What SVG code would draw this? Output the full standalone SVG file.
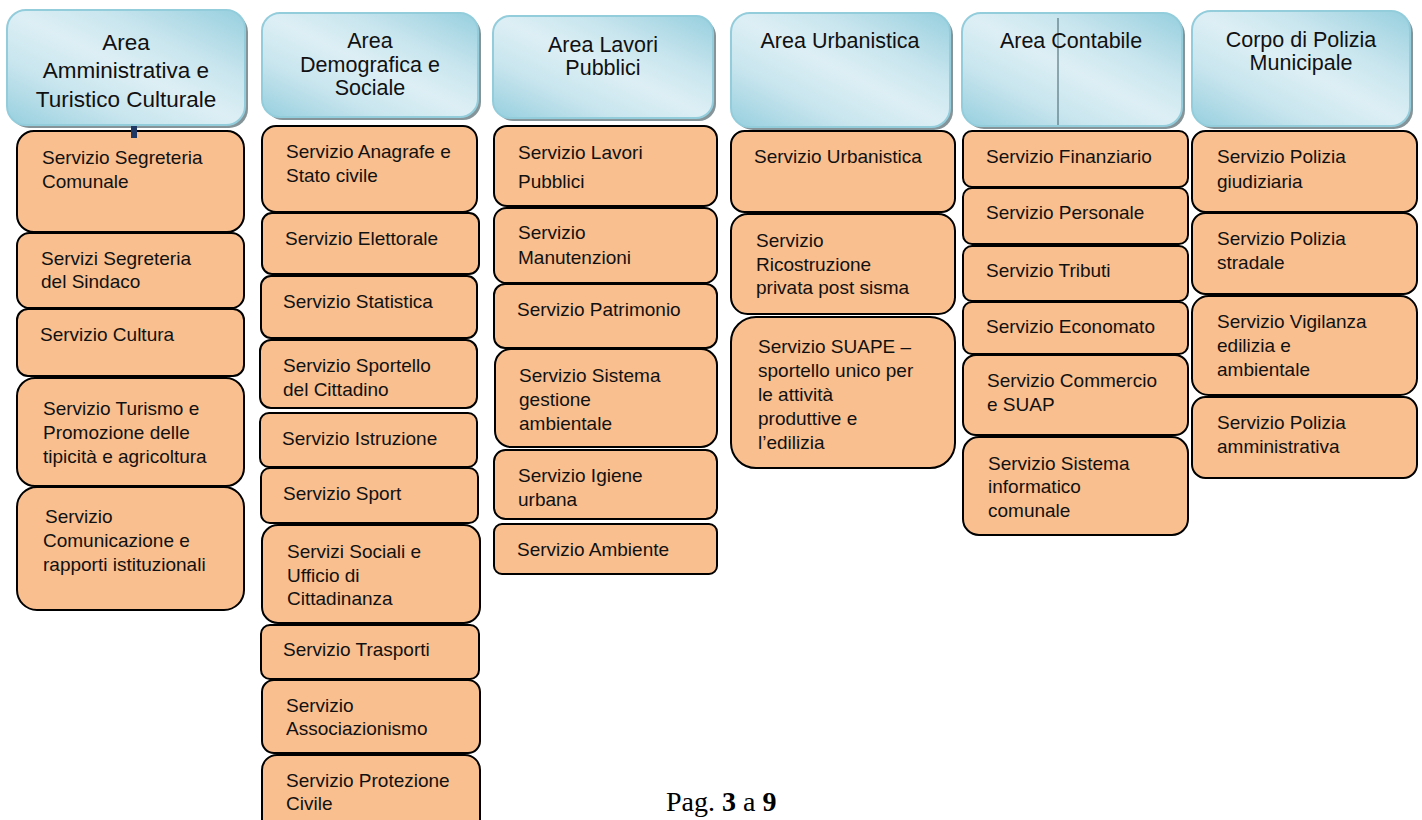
<svg xmlns="http://www.w3.org/2000/svg" width="1422" height="820" viewBox="0 0 1422 820">
<defs>
<linearGradient id="hg" x1="1" y1="0" x2="0" y2="1">
<stop offset="0" stop-color="#96cfde"/>
<stop offset="0.3" stop-color="#c8e5ee"/>
<stop offset="0.5" stop-color="#ddeff5"/>
<stop offset="0.72" stop-color="#c8e5ee"/>
<stop offset="1" stop-color="#96cfde"/>
</linearGradient>
<style>
.hs{fill:#849499;}
.hb{fill:url(#hg);stroke:#93cddc;stroke-width:2;}
.ht{font-family:"Liberation Sans",Arial,sans-serif;font-size:21.5px;fill:#111;text-anchor:middle;}
.bx{fill:#f9bf8f;stroke:#000;stroke-width:2;}
.t{font-family:"Liberation Sans",Arial,sans-serif;font-size:19px;fill:#111;}
.pg{font-family:"Liberation Serif","Times New Roman",serif;font-size:28px;fill:#000;}
</style>
</defs>
<rect width="1422" height="820" fill="#fff"/>

<g id="h1">
<rect class="hs" x="10" y="13" width="238" height="115" rx="19"/>
<rect class="hb" x="7" y="10" width="238" height="115" rx="19"/>
<text class="ht" style="font-size:22.5px" x="126" y="50">Area</text>
<text class="ht" style="font-size:22.5px" x="126" y="78">Amministrativa e</text>
<text class="ht" style="font-size:22.5px" x="126" y="107">Turistico Culturale</text>
</g>
<g id="h2">
<rect class="hs" x="265" y="16" width="216" height="104" rx="18"/>
<rect class="hb" x="262" y="13" width="216" height="104" rx="18"/>
<text class="ht" x="370" y="48">Area</text>
<text class="ht" x="370" y="72">Demografica e</text>
<text class="ht" x="370" y="95">Sociale</text>
</g>
<g id="h3">
<rect class="hs" x="496" y="19" width="220" height="102" rx="17"/>
<rect class="hb" x="493" y="16" width="220" height="102" rx="17"/>
<text class="ht" x="603" y="52">Area Lavori</text>
<text class="ht" x="603" y="75">Pubblici</text>
</g>
<g id="h4">
<rect class="hs" x="734" y="16" width="219" height="114" rx="19"/>
<rect class="hb" x="731" y="13" width="219" height="114" rx="19"/>
<text class="ht" x="840" y="48">Area Urbanistica</text>
</g>
<g id="h5">
<rect class="hs" x="965" y="16" width="220" height="113" rx="19"/>
<rect class="hb" x="962" y="13" width="220" height="113" rx="19"/>
<line x1="1058" y1="18" x2="1058" y2="125" stroke="#3f5f69" stroke-width="1"/>
<text class="ht" x="1071" y="48">Area Contabile</text>
</g>
<g id="h6">
<rect class="hs" x="1195" y="14" width="218" height="115" rx="19"/>
<rect class="hb" x="1192" y="11" width="218" height="115" rx="19"/>
<text class="ht" x="1301" y="47">Corpo di Polizia</text>
<text class="ht" x="1301" y="70">Municipale</text>
</g>

<g id="c1a"><rect class="bx" x="17" y="131" width="227" height="101" rx="17"/>
<text class="t" x="42" y="164">Servizio Segreteria</text><text class="t" x="42" y="188">Comunale</text></g>
<g id="c1b"><rect class="bx" x="17" y="233" width="227" height="75" rx="12.5"/>
<text class="t" x="41" y="265">Servizi Segreteria</text><text class="t" x="41" y="288">del Sindaco</text></g>
<g id="c1c"><rect class="bx" x="17" y="309" width="227" height="67" rx="11"/>
<text class="t" x="40" y="341">Servizio Cultura</text></g>
<g id="c1d"><rect class="bx" x="17" y="378" width="227" height="108" rx="18"/>
<text class="t" x="43" y="415">Servizio Turismo e</text><text class="t" x="43" y="439">Promozione delle</text><text class="t" x="43" y="463">tipicità e agricoltura</text></g>
<g id="c1e"><rect class="bx" x="17" y="487" width="227" height="123" rx="20"/>
<text class="t" x="45" y="523">Servizio</text><text class="t" x="43" y="547">Comunicazione e</text><text class="t" x="43" y="571">rapporti istituzionali</text></g>

<g id="c2a"><rect class="bx" x="262" y="126" width="215" height="86" rx="14"/>
<text class="t" x="286" y="158">Servizio Anagrafe e</text><text class="t" x="286" y="182">Stato civile</text></g>
<g id="c2b"><rect class="bx" x="262" y="213" width="217" height="61" rx="10"/>
<text class="t" x="285" y="245">Servizio Elettorale</text></g>
<g id="c2c"><rect class="bx" x="261" y="276" width="216" height="62" rx="10"/>
<text class="t" x="283" y="308">Servizio Statistica</text></g>
<g id="c2d"><rect class="bx" x="260" y="340" width="217" height="68" rx="11"/>
<text class="t" x="283" y="372">Servizio Sportello</text><text class="t" x="283" y="396">del Cittadino</text></g>
<g id="c2e"><rect class="bx" x="260" y="413" width="217" height="54" rx="9"/>
<text class="t" x="282" y="445">Servizio Istruzione</text></g>
<g id="c2f"><rect class="bx" x="261" y="468" width="217" height="55" rx="9"/>
<text class="t" x="283" y="500">Servizio Sport</text></g>
<g id="c2g"><rect class="bx" x="262" y="525" width="218" height="98" rx="16"/>
<text class="t" x="287" y="558">Servizi Sociali e</text><text class="t" x="287" y="582">Ufficio di</text><text class="t" x="287" y="605">Cittadinanza</text></g>
<g id="c2h"><rect class="bx" x="261" y="625" width="218" height="54" rx="9"/>
<text class="t" x="283" y="656">Servizio Trasporti</text></g>
<g id="c2i"><rect class="bx" x="262" y="680" width="218" height="73" rx="12"/>
<text class="t" x="286" y="712">Servizio</text><text class="t" x="286" y="735">Associazionismo</text></g>
<g id="c2j"><rect class="bx" x="262" y="755" width="218" height="95" rx="15"/>
<text class="t" x="286" y="787">Servizio Protezione</text><text class="t" x="286" y="810">Civile</text></g>

<g id="c3a"><rect class="bx" x="494" y="126" width="223" height="80" rx="13"/>
<text class="t" x="518" y="159">Servizio Lavori</text><text class="t" x="518" y="188">Pubblici</text></g>
<g id="c3b"><rect class="bx" x="494" y="208" width="223" height="75" rx="12.5"/>
<text class="t" x="518" y="239">Servizio</text><text class="t" x="518" y="264">Manutenzioni</text></g>
<g id="c3c"><rect class="bx" x="494" y="284" width="223" height="64" rx="11"/>
<text class="t" x="517" y="316">Servizio Patrimonio</text></g>
<g id="c3d"><rect class="bx" x="495" y="349" width="222" height="98" rx="16"/>
<text class="t" x="519" y="382">Servizio Sistema</text><text class="t" x="519" y="406">gestione</text><text class="t" x="519" y="430">ambientale</text></g>
<g id="c3e"><rect class="bx" x="494" y="450" width="223" height="69" rx="11.5"/>
<text class="t" x="518" y="482">Servizio Igiene</text><text class="t" x="518" y="506">urbana</text></g>
<g id="c3f"><rect class="bx" x="494" y="524" width="223" height="50" rx="8"/>
<text class="t" x="517" y="556">Servizio Ambiente</text></g>

<g id="c4a"><rect class="bx" x="731" y="131" width="224" height="81" rx="13.5"/>
<text class="t" x="754" y="163">Servizio Urbanistica</text></g>
<g id="c4b"><rect class="bx" x="731" y="214" width="224" height="100" rx="16.7"/>
<text class="t" x="756" y="247">Servizio</text><text class="t" x="756" y="271">Ricostruzione</text><text class="t" x="756" y="294">privata post sisma</text></g>
<g id="c4c"><rect class="bx" x="731" y="317" width="224" height="151" rx="25"/>
<text class="t" x="758" y="353">Servizio SUAPE –</text><text class="t" x="758" y="377">sportello unico per</text><text class="t" x="758" y="401">le attività</text><text class="t" x="758" y="425">produttive e</text><text class="t" x="758" y="449">l’edilizia</text></g>

<g id="c5a"><rect class="bx" x="963" y="131" width="225" height="56" rx="9"/>
<text class="t" x="986" y="163">Servizio Finanziario</text></g>
<g id="c5b"><rect class="bx" x="963" y="188" width="225" height="56" rx="9"/>
<text class="t" x="986" y="219">Servizio Personale</text></g>
<g id="c5c"><rect class="bx" x="963" y="246" width="225" height="55" rx="9"/>
<text class="t" x="986" y="277">Servizio Tributi</text></g>
<g id="c5d"><rect class="bx" x="963" y="302" width="225" height="52" rx="9"/>
<text class="t" x="986" y="333">Servizio Economato</text></g>
<g id="c5e"><rect class="bx" x="963" y="355" width="225" height="80" rx="13"/>
<text class="t" x="987" y="387">Servizio Commercio</text><text class="t" x="987" y="411">e SUAP</text></g>
<g id="c5f"><rect class="bx" x="963" y="437" width="225" height="98" rx="16"/>
<text class="t" x="988" y="470">Servizio Sistema</text><text class="t" x="988" y="493">informatico</text><text class="t" x="988" y="517">comunale</text></g>

<g id="c6a"><rect class="bx" x="1192" y="131" width="225" height="81" rx="13.5"/>
<text class="t" x="1217" y="163">Servizio Polizia</text><text class="t" x="1217" y="188">giudiziaria</text></g>
<g id="c6b"><rect class="bx" x="1192" y="213" width="225" height="81" rx="13.5"/>
<text class="t" x="1217" y="245">Servizio Polizia</text><text class="t" x="1217" y="269">stradale</text></g>
<g id="c6c"><rect class="bx" x="1192" y="296" width="225" height="99" rx="16.5"/>
<text class="t" x="1217" y="328">Servizio Vigilanza</text><text class="t" x="1217" y="352">edilizia e</text><text class="t" x="1217" y="376">ambientale</text></g>
<g id="c6d"><rect class="bx" x="1192" y="397" width="225" height="81" rx="13.5"/>
<text class="t" x="1217" y="429">Servizio Polizia</text><text class="t" x="1217" y="453">amministrativa</text></g>

<g id="connectors">
<rect x="131" y="126" width="6" height="12" fill="#1f3864"/>
</g>

<g id="footer">
<text class="pg" x="666" y="811">Pag. <tspan font-weight="bold">3</tspan> a <tspan font-weight="bold">9</tspan></text>
</g>
</svg>
